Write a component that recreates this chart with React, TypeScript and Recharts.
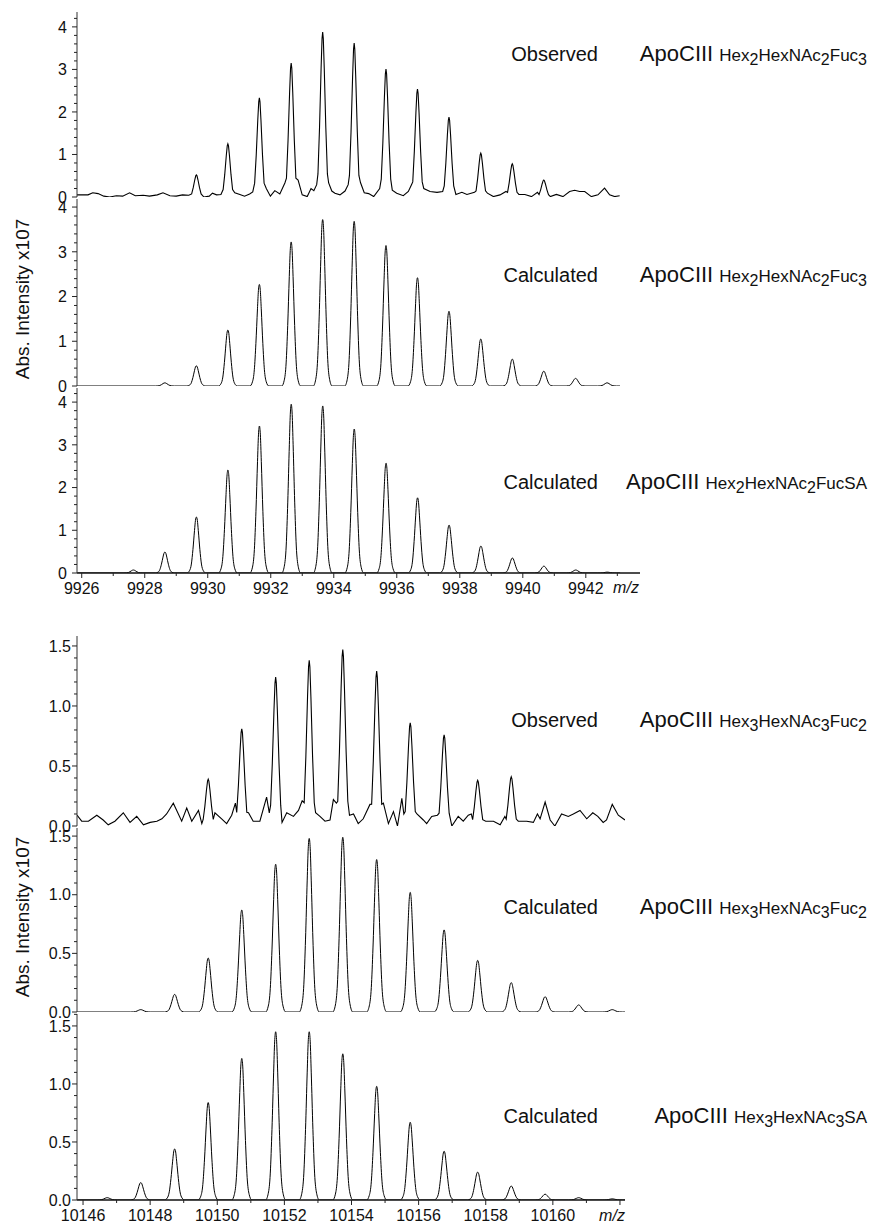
import React from 'react'
import { LineChart, Line, XAxis, YAxis } from 'recharts'

const FONT = '"Liberation Sans", Arial, Helvetica, sans-serif'

// ---------- upper set: ApoCIII m/z 9926-9943 ----------
const upperMz = [9927.64, 9928.64, 9929.64, 9930.64, 9931.64, 9932.65, 9933.65, 9934.65, 9935.66, 9936.66, 9937.66, 9938.67, 9939.67, 9940.67, 9941.68, 9942.68]
const upperObserved = [0, 0, 0.52, 1.25, 2.33, 3.15, 3.88, 3.62, 3.01, 2.54, 1.88, 1.03, 0.78, 0.4, 0, 0]
const upperCalcFuc3 = [0, 0.07, 0.45, 1.25, 2.27, 3.22, 3.72, 3.68, 3.14, 2.42, 1.67, 1.05, 0.6, 0.33, 0.17, 0.07]
const upperCalcFucSA = [0.07, 0.49, 1.31, 2.41, 3.44, 3.95, 3.91, 3.37, 2.57, 1.76, 1.12, 0.63, 0.35, 0.16, 0.07, 0.02]
// noise between the observed peaks [m/z, intensity]
const upperNoise = [
  [9925.85, 0.05], [9926.2, 0.05], [9926.35, 0.1], [9926.52, 0.08], [9926.7, 0.02], [9926.89, 0.0], [9927.1, 0.03], [9927.3, 0.02],
  [9927.52, 0.1], [9927.7, 0.03], [9927.95, 0.04], [9928.15, 0.02], [9928.4, 0.05], [9928.58, 0.1], [9928.8, 0.03], [9929.0, 0.02],
  [9929.2, 0.05], [9929.4, 0.04], [9929.88, 0.0], [9930.05, 0.02], [9930.15, 0.09], [9930.28, 0.05], [9930.42, 0.06],
  [9930.86, 0.1], [9931.02, 0.06], [9931.17, 0.02], [9931.33, 0.07], [9931.43, 0.12],
  [9931.86, 0.2], [9931.99, 0.02], [9932.13, 0.15], [9932.29, 0.07], [9932.45, 0.33],
  [9932.87, 0.4], [9933.0, 0.05], [9933.16, 0.01], [9933.28, 0.2], [9933.37, 0.15], [9933.46, 0.29],
  [9933.84, 0.33], [9933.94, 0.14], [9934.04, 0.09], [9934.2, 0.05], [9934.36, 0.14], [9934.46, 0.29],
  [9934.85, 0.34], [9934.97, 0.1], [9935.11, 0.08], [9935.27, 0.01], [9935.46, 0.2],
  [9935.86, 0.16], [9936.0, 0.09], [9936.21, 0.03], [9936.37, 0.13], [9936.47, 0.29],
  [9936.86, 0.2], [9937.06, 0.13], [9937.28, 0.11], [9937.46, 0.13],
  [9937.88, 0.06], [9938.07, 0.11], [9938.23, 0.06], [9938.47, 0.11],
  [9938.88, 0.09], [9939.07, 0.01], [9939.28, 0.05], [9939.47, 0.13],
  [9939.88, 0.06], [9940.07, 0.06], [9940.28, 0.01], [9940.47, 0.11],
  [9940.88, 0.01], [9941.07, 0.06], [9941.28, 0.01], [9941.49, 0.13], [9941.65, 0.16], [9941.81, 0.13], [9941.97, 0.13],
  [9942.18, 0.01], [9942.39, 0.05], [9942.6, 0.21], [9942.76, 0.05], [9942.92, 0.01], [9943.08, 0.03],
]
const upperXTicks = [9926, 9927, 9928, 9929, 9930, 9931, 9932, 9933, 9934, 9935, 9936, 9937, 9938, 9939, 9940, 9941, 9942, 9943]

// ---------- lower set: ApoCIII m/z 10146-10162 ----------
const lowerMz = [10146.72, 10147.72, 10148.73, 10149.73, 10150.73, 10151.74, 10152.74, 10153.74, 10154.75, 10155.75, 10156.76, 10157.76, 10158.76, 10159.77, 10160.77, 10161.77]
const lowerObserved = [0, 0, 0, 0.39, 0.81, 1.24, 1.38, 1.47, 1.29, 0.86, 0.76, 0.38, 0.41, 0, 0, 0]
const lowerCalcFuc2 = [0, 0.02, 0.15, 0.46, 0.87, 1.26, 1.48, 1.49, 1.3, 1.02, 0.7, 0.44, 0.25, 0.13, 0.06, 0.02]
const lowerCalcSA = [0.02, 0.15, 0.44, 0.84, 1.22, 1.45, 1.45, 1.26, 0.98, 0.67, 0.42, 0.24, 0.12, 0.05, 0.02, 0.01]
const lowerNoise = [
  [10145.82, 0.09], [10145.96, 0.04], [10146.16, 0.04], [10146.41, 0.09], [10146.6, 0.05], [10146.75, 0.01], [10146.95, 0.04],
  [10147.2, 0.11], [10147.4, 0.03], [10147.6, 0.08], [10147.8, 0.01], [10148.0, 0.03], [10148.2, 0.04], [10148.35, 0.06],
  [10148.49, 0.1], [10148.69, 0.19], [10148.94, 0.04], [10149.09, 0.15], [10149.24, 0.04], [10149.44, 0.13], [10149.54, 0.02],
  [10149.93, 0.11], [10150.13, 0.06], [10150.28, 0.02], [10150.43, 0.09], [10150.54, 0.19],
  [10150.93, 0.11], [10151.07, 0.04], [10151.27, 0.04], [10151.47, 0.24], [10151.55, 0.11],
  [10151.93, 0.03], [10152.07, 0.11], [10152.27, 0.08], [10152.42, 0.13], [10152.53, 0.21],
  [10152.93, 0.11], [10153.06, 0.08], [10153.21, 0.04], [10153.36, 0.05], [10153.46, 0.22], [10153.55, 0.19],
  [10153.94, 0.09], [10154.06, 0.1], [10154.2, 0.02], [10154.35, 0.06], [10154.55, 0.18],
  [10154.95, 0.19], [10155.1, 0.02], [10155.25, 0.12], [10155.37, 0.0], [10155.5, 0.23], [10155.56, 0.1],
  [10155.95, 0.1], [10156.14, 0.05], [10156.24, 0.02], [10156.39, 0.08], [10156.56, 0.09],
  [10156.99, 0.0], [10157.18, 0.08], [10157.33, 0.04], [10157.48, 0.09], [10157.57, 0.1],
  [10158.0, 0.04], [10158.23, 0.04], [10158.43, 0.01], [10158.57, 0.08],
  [10158.97, 0.04], [10159.22, 0.04], [10159.42, 0.03], [10159.54, 0.1], [10159.62, 0.06], [10159.77, 0.2], [10159.92, 0.05],
  [10160.06, 0.0], [10160.26, 0.1], [10160.46, 0.08], [10160.61, 0.1], [10160.81, 0.13], [10161.01, 0.06], [10161.19, 0.11],
  [10161.34, 0.08], [10161.5, 0.03], [10161.6, 0.05], [10161.77, 0.18], [10161.95, 0.09], [10162.15, 0.05],
]
const lowerXTicks = [10146, 10147, 10148, 10149, 10150, 10151, 10152, 10153, 10154, 10155, 10156, 10157, 10158, 10159, 10160, 10161, 10162]

// peak outlines: [offset in m/z, fraction of apex]
const calcShape = [[-0.3, 0], [-0.22, 0.04], [-0.16, 0.16], [-0.11, 0.42], [-0.06, 0.76], [-0.03, 0.94], [0, 1], [0.03, 0.94], [0.06, 0.76], [0.11, 0.42], [0.16, 0.16], [0.22, 0.04], [0.3, 0]]
const obsShape = [[-0.15, 0.14], [-0.1, 0.42], [-0.05, 0.78], [-0.02, 0.96], [0, 1], [0.02, 0.96], [0.05, 0.78], [0.1, 0.42], [0.15, 0.14]]

type Pt = { mz: number; v: number }

function buildTrace(mz: number[], h: number[], shape: number[][], base: number[][]): Pt[] {
  const pts: Pt[] = []
  mz.forEach((c, i) => {
    if (h[i] <= 0) return
    shape.forEach(([dx, f]) => pts.push({ mz: c + dx, v: h[i] * f }))
  })
  base.forEach(([m, v]) => {
    if (mz.some((c, i) => h[i] > 0 && Math.abs(m - c) < 0.17)) return
    pts.push({ mz: m, v })
  })
  return pts.sort((a, b) => a.mz - b.mz)
}

const steps = (max: number, step: number) => {
  const out: number[] = []
  for (let i = 0; i * step <= max + 1e-9; i++) out.push(Math.round(i * step * 1000) / 1000)
  return out
}

const UP_X: [number, number] = [9925.85, 9943.09]
const UP_X_LAST: [number, number] = [9925.85, 9943.72]
const LO_X: [number, number] = [10145.82, 10162.15]

function YTick({ x, y, payload, major, digits, font, gap }: any) {
  const v = payload.value
  const isMajor = Math.abs(v / major - Math.round(v / major)) < 1e-6
  return (
    <g>
      <line x1={x - (isMajor ? 5 : 3)} x2={x} y1={y} y2={y} stroke="#222" strokeWidth={1} />
      {isMajor && (
        <text x={x - gap} y={y} dy="0.36em" textAnchor="end" fontSize={font} fontFamily={FONT} fill="#111">
          {v.toFixed(digits)}
        </text>
      )}
    </g>
  )
}

function XTick({ x, y, payload, maxLabel }: any) {
  const v = payload.value
  const major = v % 2 === 0
  return (
    <g>
      <line x1={x} x2={x} y1={y} y2={y + (major ? 5 : 3)} stroke="#222" strokeWidth={1} />
      {major && v <= maxLabel && (
        <text x={x} y={y + 21} textAnchor="middle" fontSize={16} fontFamily={FONT} fill="#111">
          {v}
        </text>
      )}
    </g>
  )
}

type PanelProps = {
  data: Pt[]
  top: number
  height: number
  plotWidth: number
  xDomain: [number, number]
  yMax: number
  yStep: number
  yMajor: number
  digits: number
  yFont: number
  yGap: number
  xTicks?: number[]
  xLabelMax?: number
  observed?: boolean
}

const PAD = 10

function Panel(p: PanelProps) {
  const last = !!p.xTicks
  const axisH = last ? 30 : 0
  return (
    <div style={{ position: 'absolute', left: 0, top: p.top - PAD }}>
      <LineChart
        width={77 + p.plotWidth + 10}
        height={p.height + PAD * 2 + axisH}
        data={p.data}
        margin={{ top: PAD, right: 10, bottom: PAD, left: 0 }}
      >
        <XAxis
          dataKey="mz"
          type="number"
          domain={p.xDomain}
          allowDataOverflow
          height={axisH}
          ticks={p.xTicks ?? []}
          interval={0}
          tickSize={0}
          tickMargin={0}
          tickLine={false}
          axisLine={{ stroke: '#111', strokeWidth: last ? 1.3 : 2 }}
          tick={last ? (t: any) => <XTick {...t} maxLabel={p.xLabelMax} /> : false}
        />
        <YAxis
          type="number"
          domain={[0, p.yMax]}
          allowDataOverflow
          width={77}
          ticks={steps(p.yMax, p.yStep)}
          interval={0}
          tickSize={0}
          tickMargin={0}
          tickLine={false}
          axisLine={{ stroke: '#333', strokeWidth: 1 }}
          tick={(t: any) => <YTick {...t} major={p.yMajor} digits={p.digits} font={p.yFont} gap={p.yGap} />}
        />
        <Line
          dataKey="v"
          type={p.observed ? 'linear' : 'monotone'}
          stroke="#000"
          strokeWidth={p.observed ? 1.1 : 1}
          dot={false}
          isAnimationActive={false}
        />
      </LineChart>
    </div>
  )
}

const label: React.CSSProperties = { position: 'absolute', fontFamily: FONT, color: '#111', whiteSpace: 'nowrap', lineHeight: 1, transform: 'translateY(-50%)' }
const subStyle: React.CSSProperties = { fontSize: 16, position: 'relative', top: 4 }

function Formula({ parts }: { parts: [string, string][] }) {
  return (
    <span style={{ fontSize: 17 }}>
      {parts.map(([t, s], i) => (
        <React.Fragment key={i}>
          {t}
          {s && <span style={subStyle}>{s}</span>}
        </React.Fragment>
      ))}
    </span>
  )
}

function Row({ y, kind, parts }: { y: number; kind: string; parts: [string, string][] }) {
  return (
    <>
      <div style={{ ...label, right: 871 - 598, top: y, fontSize: 20 }}>{kind}</div>
      <div style={{ ...label, right: 4, top: y, fontSize: 22 }}>
        ApoCIII <Formula parts={parts} />
      </div>
    </>
  )
}

function YTitle({ y }: { y: number }) {
  return (
    <div
      style={{
        position: 'absolute', left: 22, top: y, fontFamily: FONT, fontSize: 19, color: '#111', whiteSpace: 'nowrap',
        transform: 'translate(-50%, -50%) rotate(-90deg)', lineHeight: 1,
      }}
    >
      Abs. Intensity x107
    </div>
  )
}

const mzLabel = (x: number, y: number) => (
  <div style={{ ...label, left: x, top: y, fontSize: 16, fontStyle: 'italic', transform: 'translate(-50%, -50%)' }}>m/z</div>
)

export default function App() {
  const up1 = buildTrace(upperMz, upperObserved, obsShape, upperNoise)
  const up2 = buildTrace(upperMz, upperCalcFuc3, calcShape, [[UP_X[0], 0], [UP_X[1], 0]])
  const up3 = buildTrace(upperMz, upperCalcFucSA, calcShape, [[UP_X[0], 0], [UP_X[1], 0]])
  const lo1 = buildTrace(lowerMz, lowerObserved, obsShape, lowerNoise)
  const lo2 = buildTrace(lowerMz, lowerCalcFuc2, calcShape, [[LO_X[0], 0], [LO_X[1], 0]])
  const lo3 = buildTrace(lowerMz, lowerCalcSA, calcShape, [[LO_X[0], 0], [LO_X[1], 0]])

  const up = { yStep: 0.2, yMajor: 1, digits: 0, yFont: 16, yGap: 10 }
  const lo = { yStep: 0.1, yMajor: 0.5, digits: 1, yFont: 16, yGap: 6 }

  return (
    <div style={{ position: 'absolute', left: 0, top: 0, width: 871, height: 1227, background: '#fff', overflow: 'hidden' }}>
      <Panel data={up1} top={12} height={185} plotWidth={543} xDomain={UP_X} yMax={4.35} observed {...up} />
      <Panel data={up2} top={199} height={187} plotWidth={543} xDomain={UP_X} yMax={4.18} {...up} />
      <Panel data={up3} top={388} height={185} plotWidth={563} xDomain={UP_X_LAST} yMax={4.33} xTicks={upperXTicks} xLabelMax={9942} {...up} />

      <Panel data={lo1} top={636} height={190} plotWidth={548} xDomain={LO_X} yMax={1.583} observed {...lo} />
      <Panel data={lo2} top={828} height={184} plotWidth={548} xDomain={LO_X} yMax={1.569} {...lo} />
      <Panel data={lo3} top={1014} height={186} plotWidth={548} xDomain={LO_X} yMax={1.603} xTicks={lowerXTicks} xLabelMax={10160} {...lo} />

      <YTitle y={299} />
      <YTitle y={917} />
      {mzLabel(626, 588)}
      {mzLabel(612, 1216)}

      <Row y={54} kind="Observed" parts={[['Hex', '2'], ['HexNAc', '2'], ['Fuc', '3']]} />
      <Row y={275} kind="Calculated" parts={[['Hex', '2'], ['HexNAc', '2'], ['Fuc', '3']]} />
      <Row y={482} kind="Calculated" parts={[['Hex', '2'], ['HexNAc', '2'], ['FucSA', '']]} />

      <Row y={720} kind="Observed" parts={[['Hex', '3'], ['HexNAc', '3'], ['Fuc', '2']]} />
      <Row y={907} kind="Calculated" parts={[['Hex', '3'], ['HexNAc', '3'], ['Fuc', '2']]} />
      <Row y={1116} kind="Calculated" parts={[['Hex', '3'], ['HexNAc', '3'], ['SA', '']]} />
    </div>
  )
}
